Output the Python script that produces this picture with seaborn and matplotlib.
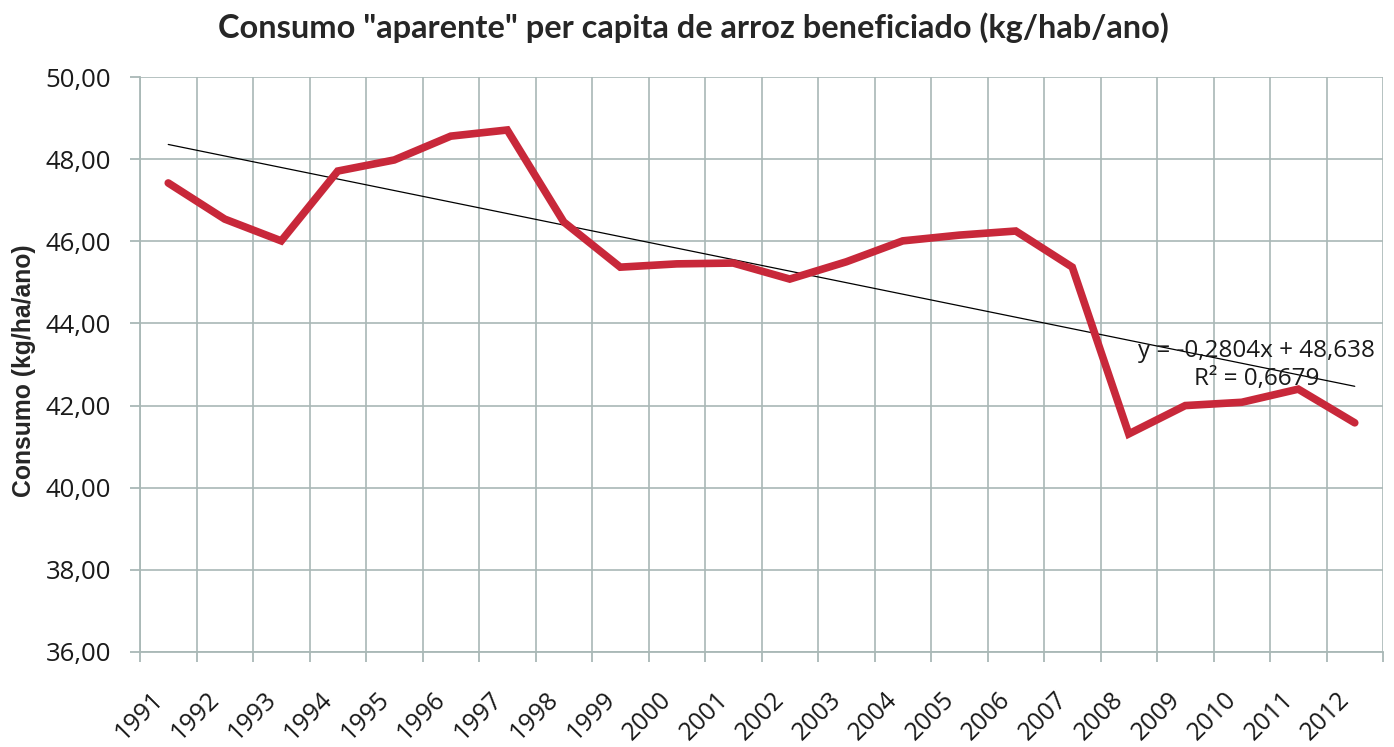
import matplotlib
matplotlib.use("Agg")
import matplotlib.pyplot as plt
import matplotlib.transforms as mtransforms
import seaborn as sns
import pandas as pd
import numpy as np

years = [str(y) for y in range(1991, 2013)]
consumo = [47.42, 46.54, 46.01, 47.71, 47.98, 48.56, 48.71, 46.47, 45.37, 45.45,
           45.47, 45.08, 45.50, 46.01, 46.15, 46.25, 45.37, 41.31, 42.00, 42.08,
           42.40, 41.58]
slope, intercept = -0.2804, 48.638
r2_text = "0,6679"
ytick_vals = [36, 38, 40, 42, 44, 46, 48, 50]

sns.set_theme(style="white")
plt.rcParams['font.family'] = ['Open Sans', 'DejaVu Sans']

df = pd.DataFrame({"idx": np.arange(len(years)), "year": years, "consumo": consumo})
df["trend"] = slope * (df["idx"] + 1) + intercept

fig = plt.figure(figsize=(13.94, 7.47), dpi=100)
ax = fig.add_axes([140/1394, 1 - 652/747, (1383-140)/1394, (652-77)/747])

grid_c = "#A9B8B6"
sns.lineplot(data=df, x="idx", y="trend", ax=ax, color="black", linewidth=0.9)
sns.lineplot(data=df, x="idx", y="consumo", ax=ax, color="#C8283A", linewidth=5.5,
             solid_joinstyle="miter")

ax.set_xlim(-0.5, len(years) - 0.5)
ax.set_ylim(36, 50)
ax.set_yticks(ytick_vals)
ax.set_yticklabels([f"{v:.2f}".replace(".", ",") for v in ytick_vals], fontsize=18.5, color="#1a1a1a")
ax.set_xticks(np.arange(len(years)))
ax.set_xticklabels(years, rotation=45, ha="right", va="top", fontsize=18, color="#1a1a1a")
shift = mtransforms.ScaledTranslation(6/100, 0, fig.dpi_scale_trans)
for lab in ax.get_xticklabels():
    lab.set_transform(lab.get_transform() + shift)
ax.set_xticks(np.arange(len(years) + 1) - 0.5, minor=True)
ax.tick_params(axis="x", which="major", length=0, pad=25)
ax.tick_params(axis="x", which="minor", length=7, color=grid_c, width=1.3, direction="out", bottom=True)
ax.tick_params(axis="y", which="major", length=7, color=grid_c, width=1.3, direction="out", left=True, pad=14)
ax.grid(axis="y", which="major", color=grid_c, linewidth=1.2)
ax.grid(axis="x", which="minor", color=grid_c, linewidth=1.2)
ax.grid(axis="x", which="major", visible=False)
for s in ["top", "right"]:
    ax.spines[s].set_visible(False)
for s in ["left", "bottom"]:
    ax.spines[s].set_color(grid_c)
    ax.spines[s].set_linewidth(1.3)

ax.set_xlabel("")
ax.set_ylabel("Consumo (kg/ha/ano)", fontsize=17.8, fontweight="bold",
              family=["Liberation Sans", "DejaVu Sans"])
ax.yaxis.set_label_coords(-0.084, 0.49)

ax.text(19.26, 42.99, "y = -0,2804x + 48,638\nR² = " + r2_text, ha="center", va="center",
        multialignment="center", fontsize=17.5, color="#1a1a1a", linespacing=1.2)

fig.text(693/1394, 1 - 28/747, 'Consumo "aparente" per capita de arroz beneficiado (kg/hab/ano)',
         ha="center", va="center", fontsize=23.4, fontweight="bold", family=["Lato", "DejaVu Sans"])

fig.savefig("out.png", dpi=100)
